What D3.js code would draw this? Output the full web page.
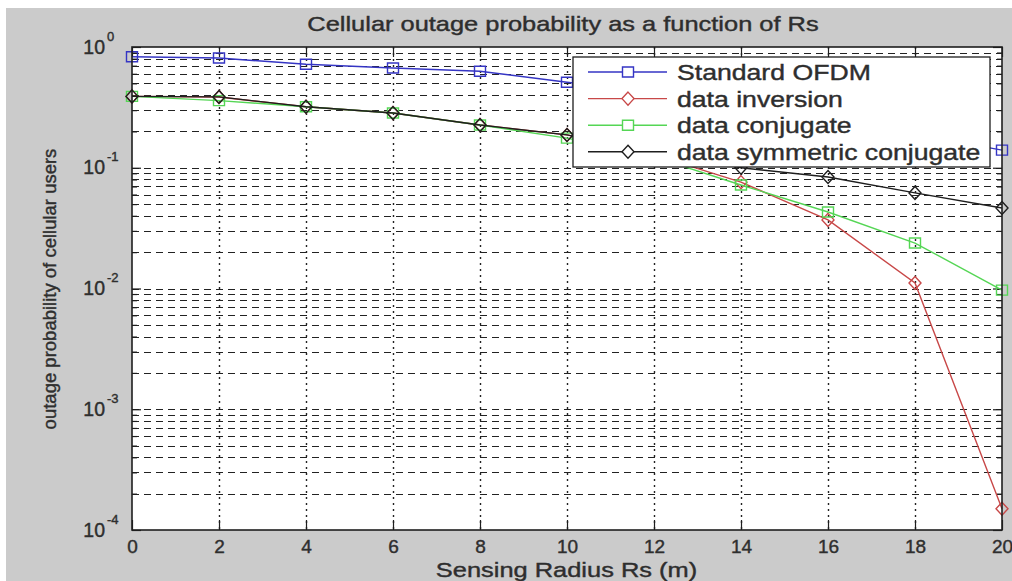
<!DOCTYPE html>
<html>
<head>
<meta charset="utf-8">
<script src="https://cdn.jsdelivr.net/npm/d3@7"></script>
<style>
  html, body { margin: 0; padding: 0; background: #fff; }
  svg { display: block; font-family: "Liberation Sans", Arial, Helvetica, sans-serif; }
  svg text { stroke: #2e2e2e; stroke-width: 0.4px; }
</style>
</head>
<body>
<svg id="chart" width="1012" height="581"></svg>
<script>
// ---- data ----
const radius = [0, 2, 4, 6, 8, 10, 12, 14, 16, 18, 20];
const standardOFDM     = [0.83, 0.81, 0.72, 0.67, 0.63, 0.51, 0.42, 0.34, 0.26, 0.19, 0.14];
const dataInversion    = [0.39, 0.385, 0.32, 0.284, 0.226, 0.187, 0.128, 0.076, 0.037, 0.0111, 0.00015];
const dataConjugate    = [0.39, 0.36, 0.32, 0.284, 0.226, 0.176, 0.123, 0.072, 0.043, 0.0238, 0.0097];
const dataSymConjugate = [0.39, 0.386, 0.32, 0.284, 0.226, 0.187, 0.135, 0.1, 0.0838, 0.0619, 0.0464];
const seriesNames = ["Standard OFDM", "data inversion", "data conjugate", "data symmetric conjugate"];
const xTickValues = [0, 2, 4, 6, 8, 10, 12, 14, 16, 18, 20];
const yDecadeExponents = [-4, -3, -2, -1, 0];
const titleText = "Cellular outage probability as a function of Rs";
const xLabelText = "Sensing Radius Rs (m)";
const yLabelText = "outage probability of cellular users";

// ---- styling ----
const seriesValues = [standardOFDM, dataInversion, dataConjugate, dataSymConjugate];
const seriesColors = ["#3535c4", "#c84848", "#55d655", "#1e1e1e"];
const seriesMarkers = ["square", "diamond", "square", "diamond"];
const TEXT = "#2e2e2e";
const H_STRETCH = 1.21;   // horizontal widening of the figure's lettering

const W = 1012, H = 581;
const plot = { left: 132, right: 1002, top: 47, bottom: 530 };

const svg = d3.select("#chart");

// figure background
svg.append("rect").attr("width", W).attr("height", H).attr("fill", "#ffffff");
svg.append("rect").attr("x", 6).attr("y", 8).attr("width", W - 6).attr("height", H - 8).attr("fill", "#cbcbcb");

// scales
const x = d3.scaleLinear().domain([0, 20]).range([plot.left, plot.right]);
const y = d3.scaleLog().domain([1e-4, 1]).range([plot.bottom, plot.top]);

// axes background
svg.append("rect")
  .attr("x", plot.left).attr("y", plot.top)
  .attr("width", plot.right - plot.left).attr("height", plot.bottom - plot.top)
  .attr("fill", "#ffffff");

// log grid values: 1..9 x 10^k for every decade
const gridValues = [];
yDecadeExponents.slice(0, -1).forEach(e => {
  for (let m = 1; m <= 9; m++) gridValues.push(m * Math.pow(10, e));
});
const innerGrid = gridValues.filter(v => v > 1e-4 * 1.0001 && v < 1);
const minorVals = gridValues.filter(v => !yDecadeExponents.some(e => Math.abs(v - Math.pow(10, e)) < 1e-12));
const majorVals = yDecadeExponents.map(e => Math.pow(10, e));

const grid = svg.append("g").attr("stroke", "#222222").attr("stroke-width", 1.1).attr("fill", "none");
grid.selectAll("line.h").data(innerGrid).join("line")
  .attr("class", "h")
  .attr("x1", plot.left).attr("x2", plot.right)
  .attr("y1", d => Math.round(y(d)) + 0.5).attr("y2", d => Math.round(y(d)) + 0.5)
  .attr("stroke-dasharray", "7,5");
grid.selectAll("line.v").data(xTickValues.filter(v => v > 0 && v < 20)).join("line")
  .attr("class", "v")
  .attr("y1", plot.top).attr("y2", plot.bottom)
  .attr("x1", d => Math.round(x(d)) + 0.5).attr("x2", d => Math.round(x(d)) + 0.5)
  .attr("stroke-width", 1.4)
  .attr("stroke-dasharray", "2,4");

// axes (ticks point inward)
const axisStyle = g => {
  g.selectAll(".domain").remove();
  g.selectAll(".tick line").attr("stroke", "#1e1e1e").attr("stroke-width", 1.2);
};
svg.append("g").attr("transform", `translate(0,${plot.bottom})`)
  .call(d3.axisBottom(x).tickValues(xTickValues).tickSizeInner(-10).tickSizeOuter(0).tickPadding(9.5).tickFormat(d3.format("d")))
  .call(axisStyle)
  .call(g => g.selectAll("text").attr("font-size", 19).attr("fill", TEXT).attr("font-family", "Liberation Sans, Arial, sans-serif"));
svg.append("g").attr("transform", `translate(0,${plot.top})`)
  .call(d3.axisTop(x).tickValues(xTickValues).tickSizeInner(-10).tickSizeOuter(0).tickFormat(""))
  .call(axisStyle);
svg.append("g").attr("transform", `translate(${plot.left},0)`)
  .call(d3.axisLeft(y).tickValues(majorVals).tickSizeInner(-9).tickSizeOuter(0).tickFormat(""))
  .call(axisStyle);
svg.append("g").attr("transform", `translate(${plot.left},0)`)
  .call(d3.axisLeft(y).tickValues(minorVals).tickSizeInner(-5).tickSizeOuter(0).tickFormat(""))
  .call(axisStyle);
svg.append("g").attr("transform", `translate(${plot.right},0)`)
  .call(d3.axisRight(y).tickValues(majorVals).tickSizeInner(-9).tickSizeOuter(0).tickFormat(""))
  .call(axisStyle);
svg.append("g").attr("transform", `translate(${plot.right},0)`)
  .call(d3.axisRight(y).tickValues(minorVals).tickSizeInner(-5).tickSizeOuter(0).tickFormat(""))
  .call(axisStyle);

// y tick labels as 10^e
const yLab = svg.append("g").attr("fill", TEXT);
yDecadeExponents.forEach(e => {
  const py = y(Math.pow(10, e));
  yLab.append("text").attr("x", 105).attr("y", py + 6.5)
    .attr("text-anchor", "end").attr("font-size", 19.5).text("10");
  yLab.append("text").attr("x", 107).attr("y", py - 6.3)
    .attr("font-size", 13).text(String(e));
});

// series
const line = d3.line().x(d => x(d[0])).y(d => y(d[1]));
const markerPath = (type, cx, cy) => {
  if (type === "square") {
    const w = 5.5, h = 5;
    return `M${cx - w},${cy - h}H${cx + w}V${cy + h}H${cx - w}Z`;
  }
  const w = 6, h = 6.5;
  return `M${cx},${cy - h}L${cx + w},${cy}L${cx},${cy + h}L${cx - w},${cy}Z`;
};

const seriesG = svg.append("g");
seriesValues.forEach((vals, i) => {
  const pts = radius.map((r, j) => [r, vals[j]]);
  const g = seriesG.append("g");
  g.append("path").datum(pts)
    .attr("d", line).attr("fill", "none")
    .attr("stroke", seriesColors[i]).attr("stroke-width", 1.4);
  g.selectAll("path.mk").data(pts).join("path")
    .attr("class", "mk")
    .attr("d", d => markerPath(seriesMarkers[i], x(d[0]), y(d[1])))
    .attr("fill", "none").attr("stroke", seriesColors[i]).attr("stroke-width", 1.4);
});

// axes box
svg.append("rect")
  .attr("x", plot.left).attr("y", plot.top)
  .attr("width", plot.right - plot.left).attr("height", plot.bottom - plot.top)
  .attr("fill", "none").attr("stroke", "#1e1e1e").attr("stroke-width", 1.6);

// legend
const leg = { x: 573, y: 57, w: 417, h: 110, row0: 72, step: 26.6 };
const legend = svg.append("g");
legend.append("rect")
  .attr("x", leg.x).attr("y", leg.y).attr("width", leg.w).attr("height", leg.h)
  .attr("fill", "#ffffff").attr("stroke", "#1e1e1e").attr("stroke-width", 1.3);
seriesNames.forEach((name, i) => {
  const cy = leg.row0 + i * leg.step;
  legend.append("line").attr("x1", 588).attr("x2", 667).attr("y1", cy).attr("y2", cy)
    .attr("stroke", seriesColors[i]).attr("stroke-width", 1.4);
  legend.append("path").attr("d", markerPath(seriesMarkers[i], 628, cy))
    .attr("fill", "#ffffff").attr("stroke", seriesColors[i]).attr("stroke-width", 1.4);
  legend.append("text").attr("class", "wide").attr("x", 677).attr("y", cy + 8)
    .attr("font-size", 22).attr("fill", TEXT).text(name);
});

// title and axis labels
svg.append("text").attr("class", "wide")
  .attr("x", 563).attr("y", 31).attr("text-anchor", "middle")
  .attr("font-size", 21).attr("fill", TEXT).text(titleText);
svg.append("text").attr("class", "wide")
  .attr("x", 566.5).attr("y", 577).attr("text-anchor", "middle")
  .attr("font-size", 21).attr("fill", TEXT).text(xLabelText);
svg.append("text")
  .attr("transform", "translate(56,289) rotate(-90)")
  .attr("text-anchor", "middle")
  .attr("font-size", 18.5).attr("fill", TEXT).text(yLabelText);

// widen the horizontal lettering
svg.selectAll("text.wide").each(function () {
  const len = this.getComputedTextLength();
  d3.select(this).attr("textLength", len * H_STRETCH).attr("lengthAdjust", "spacingAndGlyphs");
});
</script>
</body>
</html>
